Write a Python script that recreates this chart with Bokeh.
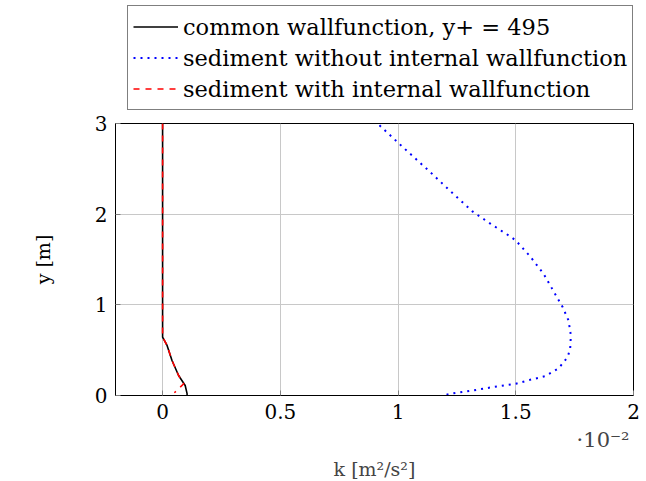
from bokeh.plotting import figure
from bokeh.models import Legend, LegendItem, Title, FixedTicker
from bokeh.layouts import column
from bokeh.embed import file_html
from bokeh.resources import INLINE

# data (k in units of 1e-2 m^2/s^2, y in m)
common_k = [0.0, 0.0, 0.019, 0.04, 0.068, 0.096, 0.104, 0.104]
common_y = [3.0, 0.643, 0.552, 0.386, 0.22, 0.11, 0.02, 0.0]

sed_no_k = [0.921, 1.012, 1.13, 1.222, 1.316, 1.392, 1.473, 1.50, 1.561, 1.618, 1.667,
            1.699, 1.724, 1.734, 1.731, 1.72, 1.682, 1.625, 1.561, 1.50, 1.41, 1.316,
            1.222, 1.19]
sed_no_y = [2.98, 2.76, 2.48, 2.255, 2.03, 1.895, 1.76, 1.71, 1.534, 1.343, 1.12,
            0.975, 0.828, 0.662, 0.515, 0.423, 0.30, 0.213, 0.173, 0.129, 0.096, 0.055,
            0.019, 0.0]

sed_with_k = [0.0, 0.0, 0.019, 0.04, 0.068, 0.09, 0.05]
sed_with_y = [3.0, 0.643, 0.552, 0.386, 0.22, 0.13, 0.03]

labels = ["common wallfunction, y+ = 495",
          "sediment without internal wallfunction",
          "sediment with internal wallfunction"]
x_ticks = [0, 0.5, 1, 1.5, 2]
y_ticks = [0, 1, 2, 3]
x_title = "k [m²/s²]"
y_title = "y [m]"
x_scale_note = "·10⁻²"

FONT = "DejaVu Serif"
series = [(common_k, common_y), (sed_no_k, sed_no_y), (sed_with_k, sed_with_y)]
styles = [dict(line_color="black", line_width=1.6),
          dict(line_color="#0000ff", line_width=2, line_dash="2 5"),
          dict(line_color="#ff0000", line_width=1.6, line_dash="6 6")]

TOP_H = 111

# ---------------- main plot ----------------
p = figure(width=646, height=481 - TOP_H, output_backend="svg", toolbar_location=None,
           x_range=(-0.2, 2.0), y_range=(0, 3),
           min_border_left=115, min_border_right=13, min_border_top=12,
           min_border_bottom=86)

for (xs, ys), s in zip(series, styles):
    p.line(xs, ys, **s)

p.xaxis.ticker = FixedTicker(ticks=x_ticks)
p.yaxis.ticker = FixedTicker(ticks=y_ticks)
p.xaxis.major_label_overrides = {0: "0", 0.5: "0.5", 1: "1", 1.5: "1.5", 2: "2"}

for ax in (p.xaxis[0], p.yaxis[0]):
    ax.major_label_text_font = FONT
    ax.major_label_text_font_size = "20px"
    ax.major_label_text_color = "black"
    ax.axis_label_text_font = FONT
    ax.axis_label_text_font_size = "19px"
    ax.axis_label_text_font_style = "normal"
    ax.axis_label_text_color = "black"
    ax.major_tick_in = 5
    ax.major_tick_out = 0
    ax.major_tick_line_color = "#808080"
    ax.minor_tick_line_color = None
    ax.axis_line_color = "black"

p.yaxis.axis_label = y_title
p.xaxis.major_label_standoff = 8
p.yaxis.major_label_standoff = 8
p.yaxis.axis_label_standoff = 38

p.grid.grid_line_color = "#c8c8c8"
p.grid.grid_line_width = 1
p.outline_line_color = "black"
p.outline_line_alpha = 1
p.background_fill_color = "white"
p.border_fill_color = "white"

t_exp = Title(text=x_scale_note, align="right", text_font=FONT, text_font_size="21px",
              text_font_style="normal", standoff=8, offset=4)
t_x = Title(text=x_title, align="center", text_font=FONT, text_font_size="19px",
            text_font_style="normal", standoff=0)
p.add_layout(t_exp, "below")
p.add_layout(t_x, "below")

# ---------------- legend strip ----------------
top = figure(width=646, height=TOP_H, output_backend="svg", toolbar_location=None,
             x_range=(-0.2, 2.0), y_range=(10, 11),
             min_border_left=115, min_border_right=13, min_border_top=0,
             min_border_bottom=0)
top.axis.visible = False
top.grid.visible = False
top.outline_line_color = None
top.background_fill_color = "white"
top.border_fill_color = "white"
rs = [top.line(xs, ys, **s) for (xs, ys), s in zip(series, styles)]

legend = Legend(items=[LegendItem(label=l, renderers=[r]) for l, r in zip(labels, rs)],
                location=(12, 1))
legend.label_text_font = FONT
legend.label_text_font_size = "22.5px"
legend.label_text_color = "black"
legend.glyph_width = 45
legend.glyph_height = 31
legend.label_height = 31
legend.label_width = 441
legend.spacing = 0
legend.label_standoff = 5
legend.padding = 5
legend.margin = 0
legend.border_line_color = "black"
legend.border_line_width = 1
legend.background_fill_alpha = 1
top.add_layout(legend, "center")

layout = column(top, p, spacing=0)
open("out.html", "w").write(file_html(layout, INLINE))
